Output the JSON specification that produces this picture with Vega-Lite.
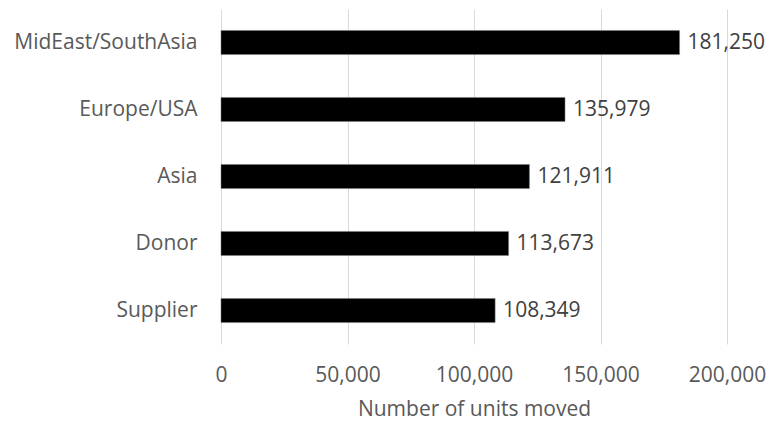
{
  "$schema": "https://vega.github.io/schema/vega-lite/v6.json",
  "autosize": "none",
  "width": 506,
  "height": 335,
  "padding": {"left": 221, "top": 9, "right": 41, "bottom": 77},
  "background": "white",
  "data": {
    "values": [
      {"region": "MidEast/SouthAsia", "units": 181250},
      {"region": "Europe/USA", "units": 135979},
      {"region": "Asia", "units": 121911},
      {"region": "Donor", "units": 113673},
      {"region": "Supplier", "units": 108349}
    ]
  },
  "config": {
    "view": {"stroke": null},
    "font": "Open Sans"
  },
  "encoding": {
    "y": {
      "field": "region",
      "type": "nominal",
      "sort": null,
      "scale": {"paddingInner": 0.64, "paddingOuter": 0.32},
      "axis": {
        "title": null,
        "domain": false,
        "ticks": false,
        "tickSize": 0,
        "grid": false,
        "labelPadding": 24,
        "labelLimit": 400,
        "labelFont": "Open Sans",
        "labelFontSize": 21,
        "labelColor": "#595959"
      }
    },
    "x": {
      "field": "units",
      "type": "quantitative",
      "scale": {"domain": [0, 200000], "nice": false},
      "axis": {
        "title": "Number of units moved",
        "values": [0, 50000, 100000, 150000, 200000],
        "format": ",.0f",
        "labelFlush": false,
        "labelOverlap": false,
        "domain": false,
        "ticks": false,
        "tickSize": 0,
        "grid": true,
        "gridColor": "#d9d9d9",
        "gridWidth": 1,
        "labelPadding": 20,
        "labelFont": "Open Sans",
        "labelFontSize": 21,
        "labelColor": "#595959",
        "titleFont": "Open Sans",
        "titleFontSize": 21,
        "titleFontWeight": "normal",
        "titleColor": "#595959",
        "titlePadding": 13
      }
    }
  },
  "layer": [
    {
      "mark": {"type": "bar", "color": "black", "stroke": "#7f7f7f", "strokeWidth": 0.5}
    },
    {
      "mark": {"type": "text", "align": "left", "baseline": "middle", "dx": 8, "font": "Open Sans", "fontSize": 21, "color": "#404040"},
      "encoding": {
        "text": {"field": "units", "type": "quantitative", "format": ","}
      }
    }
  ]
}
